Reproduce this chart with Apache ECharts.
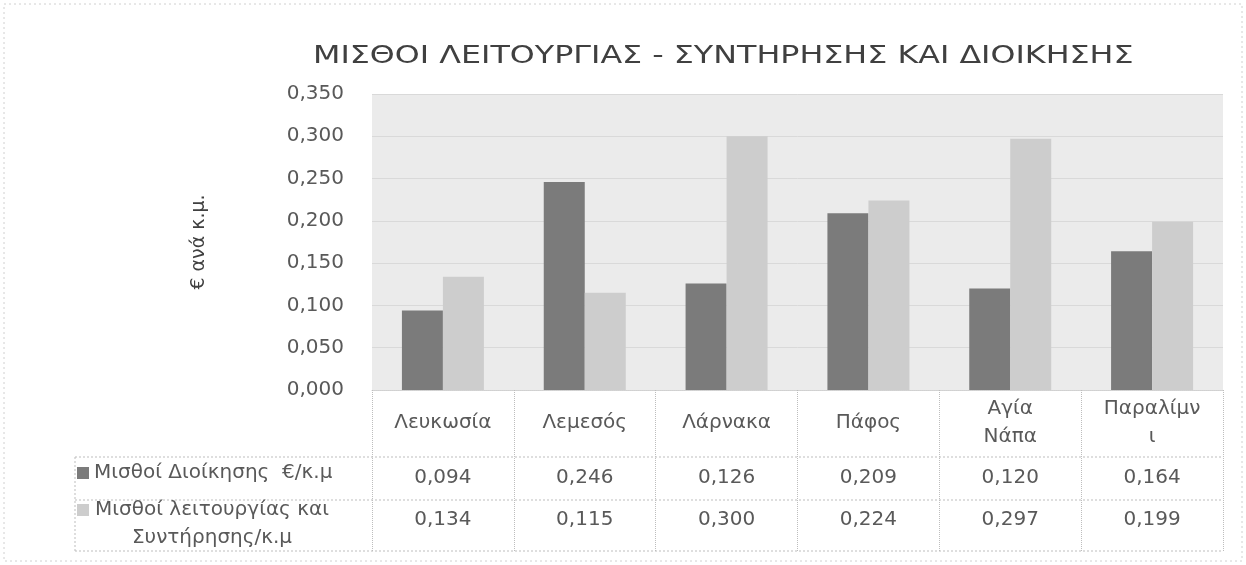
<!DOCTYPE html>
<html>
<head>
<meta charset="utf-8">
<script src="https://cdn.jsdelivr.net/npm/echarts@6/dist/echarts.min.js"></script>
<style>html,body{margin:0;padding:0;background:#fff}#c{width:1246px;height:565px}</style>
</head>
<body>
<div id="c"></div>
<script>
// ---- data ----
var categories = ['Λευκωσία', 'Λεμεσός', 'Λάρνακα', 'Πάφος', 'Αγία Νάπα', 'Παραλίμνι'];
var categoryLabels = ['Λευκωσία', 'Λεμεσός', 'Λάρνακα', 'Πάφος', 'Αγία\nΝάπα', 'Παραλίμν\nι'];
var seriesNames = ['Μισθοί Διοίκησης  €/κ.μ', 'Μισθοί λειτουργίας και\nΣυντήρησης/κ.μ'];
var adminSalaries = [0.094, 0.246, 0.126, 0.209, 0.120, 0.164];
var operationSalaries = [0.134, 0.115, 0.300, 0.224, 0.297, 0.199];
var yTicks = { min: 0, max: 0.35, interval: 0.05 };
var titleText = 'ΜΙΣΘΟΙ ΛΕΙΤΟΥΡΓΙΑΣ - ΣΥΝΤΗΡΗΣΗΣ ΚΑΙ ΔΙΟΙΚΗΣΗΣ';
var yName = '€ ανά κ.μ.';

// ---- layout ----
var FONT = 'DejaVu Sans';
var FS = 20;
var G = { left: 372, right: 1223, top: 94, bottom: 390 };
var TABLE = { left: 75, header: 457, row1: 500, bottom: 551 };
var TXT = '#595959';
var LINE = '#bdbdbd';

function fmt(v) { return v.toFixed(3).replace('.', ','); }

var chart = echarts.init(document.getElementById('c'), null, { renderer: 'canvas' });

function valueAxis(values, margin) {
  return {
    type: 'category', data: categories, position: 'bottom', offset: 0,
    axisLine: { show: false }, axisTick: { show: false }, splitLine: { show: false },
    axisLabel: {
      interval: 0, margin: margin, verticalAlign: 'middle',
      fontFamily: FONT, fontSize: FS, color: TXT,
      formatter: function (v, i) { return fmt(values[i]); }
    }
  };
}

var option = {
  backgroundColor: '#ffffff',
  animation: false,
  legend: {
    orient: 'vertical', left: TABLE.left + 2, top: 463, height: 300, width: 290, padding: 0,
    itemWidth: 12, itemHeight: 12, itemGap: -11,
    icon: 'rect',
    selectedMode: false,
    textStyle: {
      fontFamily: FONT, fontSize: FS, color: TXT,
      rich: {
        a: { fontFamily: FONT, fontSize: FS, color: TXT, lineHeight: 28 },
        e: { fontFamily: FONT, fontSize: FS, color: TXT, lineHeight: 28 },
        c: { fontFamily: FONT, fontSize: FS, color: TXT, width: 236, align: 'center', lineHeight: 28 }
      }
    },
    formatter: function (name) {
      var lines = name.split('\n');
      if (lines.length === 1) return '{a|' + name + '}';
      return '{e| }\n' + lines.map(function (l) { return '{c|' + l + '}'; }).join('\n');
    }
  },
  grid: {
    left: G.left, right: 1246 - G.right, top: G.top, bottom: 565 - G.bottom,
    show: true, backgroundColor: '#ebebeb', borderWidth: 0
  },
  xAxis: [
    {
      type: 'category', data: categories, position: 'bottom',
      axisLine: { show: true, lineStyle: { color: '#d0d0d0', type: 'dotted' } },
      axisTick: { show: true, length: TABLE.bottom - G.bottom, lineStyle: { color: LINE, type: 'dotted' } },
      splitLine: { show: false },
      axisLabel: {
        interval: 0, margin: 33, verticalAlign: 'middle', lineHeight: 28,
        fontFamily: FONT, fontSize: FS, color: TXT,
        formatter: function (v, i) { return categoryLabels[i]; }
      }
    },
    valueAxis(adminSalaries, 88),
    valueAxis(operationSalaries, 130)
  ],
  yAxis: {
    type: 'value', min: yTicks.min, max: yTicks.max, interval: yTicks.interval,
    name: yName, nameLocation: 'middle', nameRotate: 90, nameGap: 163,
    nameTextStyle: { fontFamily: FONT, fontSize: 19, color: '#404040' },
    axisLine: { show: false }, axisTick: { show: false },
    splitLine: { show: true, lineStyle: { color: '#d9d9d9', width: 1 } },
    axisLabel: {
      margin: 28, fontFamily: FONT, fontSize: FS, color: TXT,
      formatter: function (v) { return fmt(v); }
    }
  },
  series: [
    {
      name: seriesNames[0], type: 'bar', data: adminSalaries,
      barWidth: 41, barGap: '0%',
      itemStyle: { color: '#7b7b7b' }
    },
    {
      name: seriesNames[1], type: 'bar', data: operationSalaries,
      barWidth: 41, barGap: '0%',
      itemStyle: { color: '#cdcdcd' }
    }
  ],
  graphic: [
    { type: 'text', x: 313, y: 44, scaleX: 1.27, silent: true,
      style: { text: titleText, font: '25px "DejaVu Sans"', fill: '#404040', verticalAlign: 'top' } },
    { type: 'line', shape: { x1: TABLE.left, y1: TABLE.header, x2: G.right, y2: TABLE.header }, style: { stroke: LINE, lineDash: [2, 2] }, silent: true },
    { type: 'line', shape: { x1: TABLE.left, y1: TABLE.row1, x2: G.right, y2: TABLE.row1 }, style: { stroke: LINE, lineDash: [2, 2] }, silent: true },
    { type: 'line', shape: { x1: TABLE.left, y1: TABLE.bottom, x2: G.right, y2: TABLE.bottom }, style: { stroke: LINE, lineDash: [2, 2] }, silent: true },
    { type: 'line', shape: { x1: TABLE.left, y1: TABLE.header, x2: TABLE.left, y2: TABLE.bottom }, style: { stroke: LINE, lineDash: [2, 2] }, silent: true },
    { type: 'rect', shape: { x: 4, y: 4, width: 1238, height: 557 }, style: { fill: 'none', stroke: '#d0d0d0', lineDash: [2, 3] }, silent: true }
  ]
};
chart.setOption(option);
</script>
</body>
</html>
